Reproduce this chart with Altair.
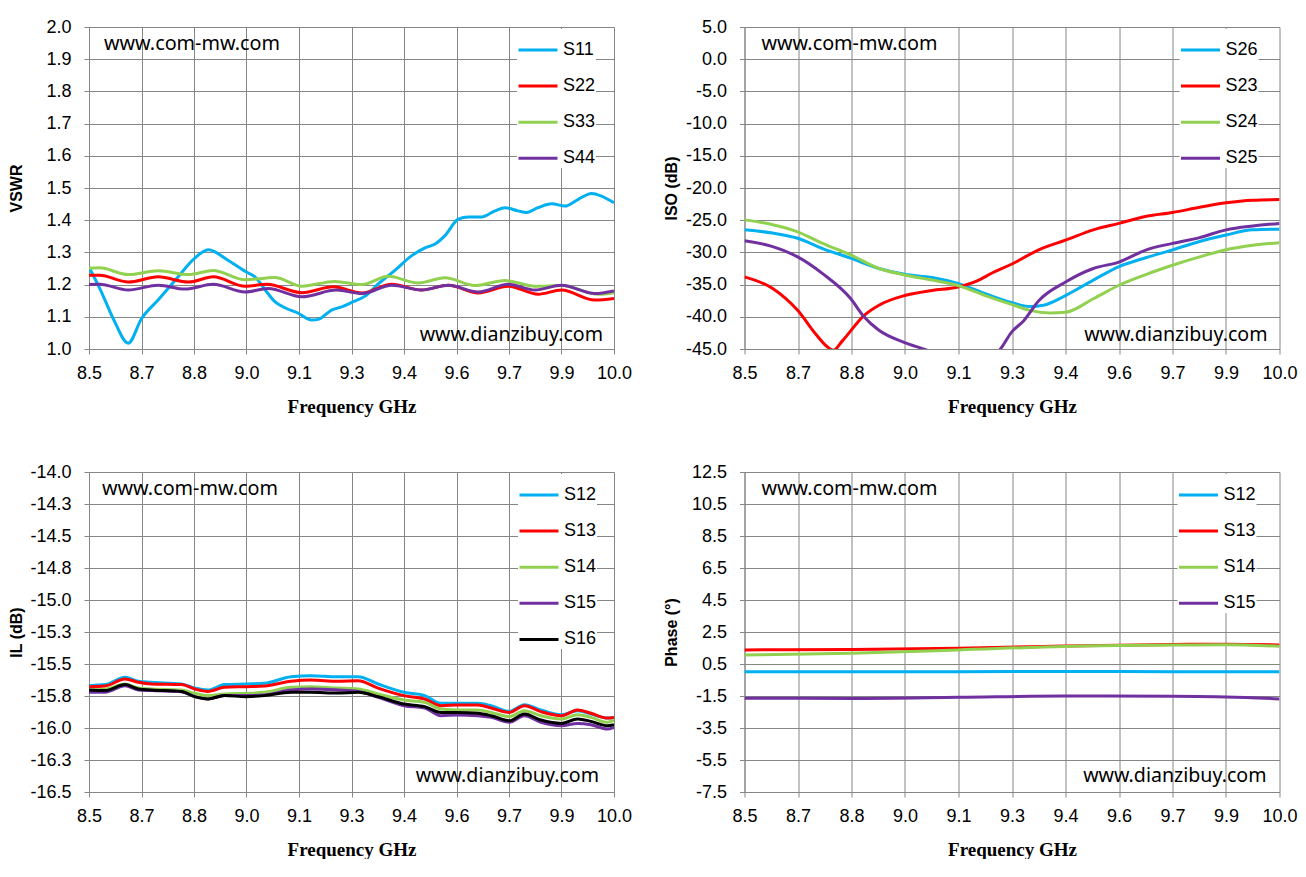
import json
import altair as alt
import pandas as pd

# ---------------- tick labels ----------------
FREQ_MIN, FREQ_STEP = 8.5, 0.15
FREQ_TICK_LABELS = ["8.5", "8.7", "8.8", "9.0", "9.1", "9.3", "9.4", "9.6", "9.7", "9.9", "10.0"]

VSWR_MIN, VSWR_STEP = 1.0, 0.1
VSWR_TICK_LABELS = ["1.0", "1.1", "1.2", "1.3", "1.4", "1.5", "1.6", "1.7", "1.8", "1.9", "2.0"]

ISO_MIN, ISO_STEP = -45.0, 5.0
ISO_TICK_LABELS = ["-45.0", "-40.0", "-35.0", "-30.0", "-25.0", "-20.0", "-15.0", "-10.0", "-5.0", "0.0", "5.0"]

IL_MIN, IL_STEP = -16.5, 0.25
IL_TICK_LABELS = ["-16.5", "-16.3", "-16.0", "-15.8", "-15.5", "-15.3", "-15.0", "-14.8", "-14.5", "-14.3", "-14.0"]

PH_MIN, PH_STEP = -7.5, 2.0
PH_TICK_LABELS = ["-7.5", "-5.5", "-3.5", "-1.5", "0.5", "2.5", "4.5", "6.5", "8.5", "10.5", "12.5"]

WATERMARK_TOP = "www.com-mw.com"
WATERMARK_BOTTOM = "www.dianzibuy.com"

# ---------------- panel 1 : VSWR ----------------
VSWR_SERIES = ["S11", "S22", "S33", "S44"]
VSWR_COLORS = ["#00B0F0", "#FF0000", "#92D050", "#7030A0"]

S11_F = [8.500, 8.533, 8.571, 8.612, 8.650, 8.700, 8.750, 8.800, 8.841, 8.898, 8.950, 8.974, 9.008,
         9.031, 9.060, 9.098, 9.136, 9.155, 9.193, 9.222, 9.255, 9.290, 9.327, 9.374, 9.422, 9.460,
         9.489, 9.517, 9.555, 9.584, 9.622, 9.660, 9.688, 9.726, 9.750, 9.783, 9.822, 9.860, 9.898,
         9.936, 9.964, 10.000]
S11_V = [1.254, 1.183, 1.090, 1.018, 1.094, 1.155, 1.218, 1.280, 1.308, 1.275, 1.239, 1.224, 1.177,
         1.147, 1.128, 1.111, 1.090, 1.092, 1.121, 1.131, 1.147, 1.165, 1.203, 1.244, 1.290, 1.314,
         1.326, 1.352, 1.403, 1.410, 1.410, 1.429, 1.439, 1.429, 1.424, 1.439, 1.451, 1.444, 1.465,
         1.483, 1.475, 1.454]

S22_F = [8.500, 8.530, 8.612, 8.698, 8.784, 8.855, 8.946, 9.008, 9.108, 9.198, 9.280, 9.365, 9.450,
         9.527, 9.612, 9.698, 9.783, 9.850, 9.945, 10.000]
S22_V = [1.229, 1.229, 1.208, 1.224, 1.208, 1.224, 1.195, 1.201, 1.175, 1.193, 1.174, 1.201, 1.183,
         1.198, 1.174, 1.195, 1.170, 1.183, 1.152, 1.157]

S33_F = [8.500, 8.530, 8.612, 8.698, 8.784, 8.855, 8.946, 9.031, 9.108, 9.202, 9.280, 9.355, 9.440,
         9.517, 9.603, 9.688, 9.774, 9.850, 9.955, 10.000]
S33_V = [1.251, 1.252, 1.231, 1.243, 1.231, 1.244, 1.215, 1.222, 1.195, 1.210, 1.200, 1.226, 1.205,
         1.221, 1.197, 1.213, 1.195, 1.197, 1.170, 1.175]

S44_F = [8.500, 8.530, 8.612, 8.698, 8.774, 8.855, 8.946, 9.012, 9.108, 9.207, 9.280, 9.365, 9.450,
         9.527, 9.612, 9.698, 9.774, 9.850, 9.945, 10.000]
S44_V = [1.200, 1.201, 1.183, 1.198, 1.186, 1.201, 1.177, 1.188, 1.162, 1.183, 1.172, 1.198, 1.183,
         1.198, 1.177, 1.201, 1.183, 1.198, 1.172, 1.180]

# ---------------- panel 2 : ISO ----------------
ISO_SERIES = ["S26", "S23", "S24", "S25"]
ISO_COLORS = ["#00B0F0", "#FF0000", "#92D050", "#7030A0"]

S26_F = [8.500, 8.579, 8.649, 8.719, 8.798, 8.877, 8.949, 9.026, 9.096, 9.175, 9.250, 9.300, 9.338,
         9.400, 9.478, 9.550, 9.627, 9.700, 9.776, 9.850, 9.925, 10.000]
S26_V = [-26.5, -27.0, -27.8, -29.4, -30.9, -32.5, -33.4, -33.9, -34.8, -36.4, -37.8, -38.4, -38.2,
         -36.7, -34.3, -32.2, -30.8, -29.6, -28.3, -27.3, -26.5, -26.4]

S23_F = [8.500, 8.579, 8.649, 8.700, 8.733, 8.749, 8.775, 8.835, 8.877, 8.949, 9.026, 9.096, 9.157,
         9.194, 9.250, 9.325, 9.400, 9.478, 9.550, 9.627, 9.700, 9.776, 9.850, 9.925, 10.000]
S23_V = [-33.8, -35.6, -39.0, -42.7, -44.7, -45.2, -43.7, -39.8, -38.2, -36.7, -35.9, -35.4, -34.3,
         -33.2, -31.8, -29.6, -28.1, -26.5, -25.5, -24.4, -23.8, -23.0, -22.3, -21.9, -21.8]

S24_F = [8.500, 8.579, 8.649, 8.719, 8.798, 8.877, 8.949, 9.026, 9.096, 9.175, 9.250, 9.300, 9.357,
         9.400, 9.478, 9.550, 9.627, 9.700, 9.776, 9.850, 9.925, 10.000]
S24_V = [-24.95, -25.7, -26.8, -28.6, -30.4, -32.5, -33.5, -34.3, -35.1, -36.7, -38.1, -39.0, -39.4,
         -39.3, -37.2, -35.1, -33.4, -32.0, -30.7, -29.6, -28.9, -28.5]

S25_F = [8.500, 8.579, 8.649, 8.719, 8.798, 8.835, 8.877, 8.949, 9.017, 9.110, 9.213, 9.250, 9.283,
         9.325, 9.400, 9.478, 9.550, 9.627, 9.700, 9.776, 9.850, 9.925, 10.000]
S25_V = [-28.2, -29.1, -30.7, -33.3, -37.2, -40.0, -42.1, -44.0, -45.3, -48.0, -45.3, -42.3, -40.6,
         -37.5, -34.6, -32.5, -31.5, -29.6, -28.6, -27.7, -26.5, -25.9, -25.5]

# ---------------- panel 3 : IL ----------------
IL_SERIES = ["S12", "S13", "S14", "S15", "S16"]
IL_COLORS = ["#00B0F0", "#FF0000", "#92D050", "#7030A0", "#000000"]
IL_F = [8.500, 8.546, 8.603, 8.641, 8.678, 8.764, 8.802, 8.840, 8.887, 8.949, 9.001, 9.077, 9.134,
        9.210, 9.269, 9.326, 9.400, 9.459, 9.506, 9.551, 9.611, 9.649, 9.701, 9.744, 9.791, 9.850,
        9.896, 9.934, 9.981, 10.000]
IL_S12 = [-15.669, -15.661, -15.604, -15.635, -15.643, -15.656, -15.688, -15.703, -15.661, -15.656,
          -15.651, -15.599, -15.591, -15.599, -15.599, -15.656, -15.721, -15.747, -15.807, -15.807,
          -15.807, -15.826, -15.870, -15.818, -15.859, -15.896, -15.865, -15.891, -15.922, -15.917]
IL_S13 = [-15.677, -15.672, -15.617, -15.643, -15.656, -15.661, -15.695, -15.714, -15.682, -15.677,
          -15.672, -15.635, -15.625, -15.635, -15.630, -15.688, -15.747, -15.773, -15.826, -15.820,
          -15.820, -15.844, -15.878, -15.826, -15.872, -15.904, -15.859, -15.885, -15.922, -15.917]
IL_S14 = [-15.703, -15.698, -15.656, -15.688, -15.695, -15.703, -15.729, -15.747, -15.734, -15.729,
          -15.721, -15.682, -15.677, -15.688, -15.695, -15.734, -15.781, -15.799, -15.852, -15.859,
          -15.859, -15.878, -15.911, -15.865, -15.904, -15.930, -15.896, -15.917, -15.956, -15.938]
IL_S15 = [-15.721, -15.721, -15.669, -15.703, -15.708, -15.716, -15.755, -15.773, -15.747, -15.747,
          -15.742, -15.703, -15.695, -15.703, -15.714, -15.760, -15.826, -15.844, -15.904, -15.898,
          -15.904, -15.917, -15.956, -15.904, -15.956, -15.982, -15.964, -15.974, -16.008, -15.995]
IL_S16 = [-15.703, -15.708, -15.661, -15.695, -15.703, -15.714, -15.755, -15.773, -15.747, -15.755,
          -15.747, -15.721, -15.721, -15.727, -15.721, -15.755, -15.813, -15.833, -15.878, -15.878,
          -15.885, -15.904, -15.943, -15.891, -15.938, -15.964, -15.930, -15.948, -15.982, -15.974]

# ---------------- panel 4 : Phase ----------------
PH_SERIES = ["S12", "S13", "S14", "S15"]
PH_COLORS = ["#00B0F0", "#FF0000", "#92D050", "#7030A0"]
PH_F = [8.5, 8.8, 9.1, 9.4, 9.7, 9.85, 10.0]
PH_S12 = [0.02, 0.02, 0.02, 0.03, 0.02, 0.02, 0.01]
PH_S13 = [1.38, 1.41, 1.48, 1.62, 1.72, 1.74, 1.69]
PH_S14 = [1.07, 1.17, 1.38, 1.60, 1.68, 1.71, 1.61]
PH_S15 = [-1.64, -1.65, -1.58, -1.50, -1.52, -1.56, -1.68]

TICK_FONT = "Liberation Sans"
MARK_FONT = "Noto Sans"
GRID = "#868686"


def long_df(names, freqs, values):
    rows = []
    for n, fs, vs in zip(names, freqs, values):
        for f, v in zip(fs, vs):
            rows.append({"f": f, "v": v, "s": n})
    return pd.DataFrame(rows)


def tick_values(vmin, step, n):
    return [round(vmin + step * i, 4) for i in range(n)]


def label_expr(labels, vmin, step):
    return f"{json.dumps(labels)}[round((datum.value - ({vmin})) / {step})]"


def panel(df, series, colors, ymin, ystep, ylabels, ytitle, w, h, legend_x, top_x, bot_dx, bot_dy):
    ymax = ymin + ystep * (len(ylabels) - 1)
    common = dict(
        gridColor=GRID, domainColor=GRID, tickColor=GRID, gridWidth=1, domainWidth=1, tickWidth=1,
        tickSize=5, labelFont=TICK_FONT, labelFontSize=18, labelColor="black", titleColor="black",
        labelFlush=False, labelOverlap=False, grid=True,
    )
    x_axis = alt.Axis(
        values=tick_values(FREQ_MIN, FREQ_STEP, len(FREQ_TICK_LABELS)),
        labelExpr=label_expr(FREQ_TICK_LABELS, FREQ_MIN, FREQ_STEP),
        title="Frequency GHz", titleFont="Liberation Serif", titleFontSize=19,
        titleFontWeight="bold", titleY=57, titleBaseline="middle",
        labelPadding=10, **common,
    )
    y_axis = alt.Axis(
        values=tick_values(ymin, ystep, len(ylabels)),
        labelExpr=label_expr(ylabels, ymin, ystep),
        title=ytitle, titleFont="Liberation Sans", titleFontSize=16, titleFontWeight="bold",
        titleX=-73, titleY=h / 2, titleAngle=270, titleBaseline="middle", titleAlign="center",
        labelPadding=13, **common,
    )
    legend = alt.Legend(
        title=None, orient="none", legendX=legend_x, legendY=2, fillColor="white", padding=0,
        symbolType="stroke", symbolSize=1521, symbolStrokeWidth=3, labelFont=TICK_FONT,
        labelFontSize=18, labelColor="black", rowPadding=6.1, labelOffset=4,
    )
    lines = alt.Chart(df).mark_line(strokeWidth=3, interpolate="monotone", clip=True).encode(
        x=alt.X("f:Q", scale=alt.Scale(domain=[FREQ_MIN, 10.0], nice=False, zero=False), axis=x_axis),
        y=alt.Y("v:Q", scale=alt.Scale(domain=[ymin, ymax], nice=False, zero=False), axis=y_axis),
        color=alt.Color("s:N", scale=alt.Scale(domain=series, range=colors), legend=legend, sort=series),
    )
    top_txt = alt.Chart(pd.DataFrame({"t": [WATERMARK_TOP]})).mark_text(
        font=MARK_FONT, fontSize=19.8, align="left", baseline="middle", color="black"
    ).encode(text="t:N", x=alt.value(top_x), y=alt.value(17))
    bot_txt = alt.Chart(pd.DataFrame({"t": [WATERMARK_BOTTOM]})).mark_text(
        font=MARK_FONT, fontSize=19.6, align="right", baseline="middle", color="black"
    ).encode(text="t:N", x=alt.value(w - bot_dx), y=alt.value(h - bot_dy))
    return alt.layer(lines, top_txt, bot_txt).properties(width=w, height=h)


p1 = panel(long_df(VSWR_SERIES, [S11_F, S22_F, S33_F, S44_F], [S11_V, S22_V, S33_V, S44_V]),
           VSWR_SERIES, VSWR_COLORS, VSWR_MIN, VSWR_STEP, VSWR_TICK_LABELS, "VSWR",
           525, 322, 428, 15, 11, 14)
p2 = panel(long_df(ISO_SERIES, [S26_F, S23_F, S24_F, S25_F], [S26_V, S23_V, S24_V, S25_V]),
           ISO_SERIES, ISO_COLORS, ISO_MIN, ISO_STEP, ISO_TICK_LABELS, "ISO (dB)",
           535, 322, 435, 17, 12, 14)
p3 = panel(long_df(IL_SERIES, [IL_F] * 5, [IL_S12, IL_S13, IL_S14, IL_S15, IL_S16]),
           IL_SERIES, IL_COLORS, IL_MIN, IL_STEP, IL_TICK_LABELS, "IL (dB)",
           525, 320, 429, 13, 15, 16)
p4 = panel(long_df(PH_SERIES, [PH_F] * 4, [PH_S12, PH_S13, PH_S14, PH_S15]),
           PH_SERIES, PH_COLORS, PH_MIN, PH_STEP, PH_TICK_LABELS, "Phase (°)",
           535, 320, 433, 17, 13, 16)

chart = alt.concat(p1, p2, p3, p4, columns=2, spacing={"row": 123, "column": 130.5},
                   bounds="flush", align="each").resolve_scale(
    color="independent", x="independent", y="independent"
).resolve_legend(color="independent").properties(
    padding={"left": 0, "top": 10, "right": 0, "bottom": 0}, background="white"
).configure_view(stroke=None)

chart.save("out.html", embed_options={"renderer": "svg", "actions": False})
